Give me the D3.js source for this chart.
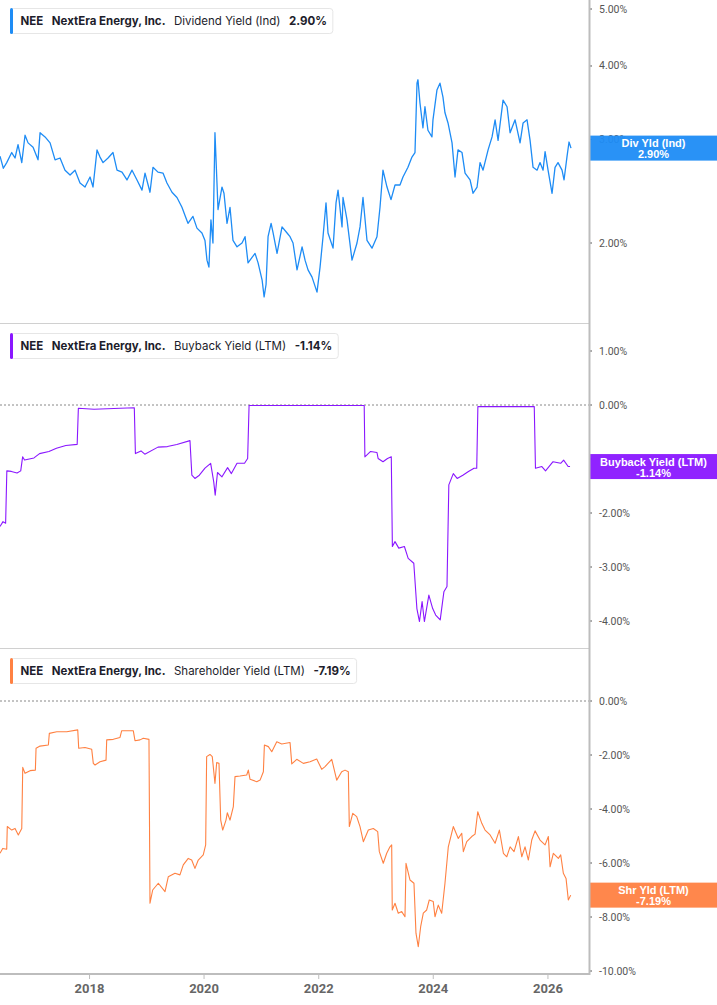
<!DOCTYPE html>
<html>
<head>
<meta charset="utf-8">
<script src="https://cdn.jsdelivr.net/npm/d3@7"></script>
<style>
  body { margin: 0; background: #fff; }
  svg { display: block; }
</style>
</head>
<body>
<svg id="chart"></svg>
<script>
// ================= DONNÉES =================== //
// dates en années décimales, valeurs en %
const ticker = "NEE";
const company = "NextEra Energy, Inc.";
const seriesNames = ["Dividend Yield (Ind)", "Buyback Yield (LTM)", "Shareholder Yield (LTM)"];
const shortNames = ["Div Yld (Ind)", "Buyback Yield (LTM)", "Shr Yld (LTM)"];
const yearTicks = [2018, 2020, 2022, 2024, 2026];
const divTicks = [2, 3, 4, 5];
const buyTicks = [1, 0, -1, -2, -3, -4];
const shyTicks = [0, -2, -4, -6, -8, -10];

const divYears = [
  2016.438,2016.496,2016.555,2016.642,2016.700,2016.752,2016.817,2016.874,2016.927,2017.014,
  2017.101,2017.136,2017.223,2017.311,2017.398,2017.485,2017.572,2017.660,2017.747,2017.834,
  2017.921,2018.009,2018.061,2018.131,2018.183,2018.236,2018.323,2018.410,2018.480,2018.567,
  2018.654,2018.742,2018.829,2018.916,2018.969,2019.056,2019.108,2019.195,2019.283,2019.352,
  2019.440,2019.527,2019.614,2019.666,2019.719,2019.806,2019.876,2019.963,2020.016,2020.051,
  2020.085,2020.120,2020.155,2020.190,2020.225,2020.243,2020.312,2020.347,2020.400,2020.452,
  2020.504,2020.574,2020.661,2020.714,2020.766,2020.836,2020.888,2020.941,2021.011,2021.046,
  2021.080,2021.115,2021.168,2021.203,2021.272,2021.359,2021.447,2021.499,2021.551,2021.621,
  2021.709,2021.761,2021.813,2021.883,2021.970,2022.023,2022.075,2022.127,2022.162,2022.250,
  2022.302,2022.337,2022.407,2022.424,2022.494,2022.581,2022.668,2022.721,2022.773,2022.843,
  2022.930,2023.017,2023.070,2023.122,2023.192,2023.262,2023.332,2023.419,2023.471,2023.558,
  2023.628,2023.681,2023.716,2023.733,2023.768,2023.820,2023.855,2023.907,2023.977,2023.995,
  2024.064,2024.117,2024.169,2024.204,2024.257,2024.327,2024.379,2024.431,2024.501,2024.554,
  2024.641,2024.693,2024.763,2024.815,2024.867,2024.955,2025.024,2025.077,2025.129,2025.216,
  2025.286,2025.339,2025.426,2025.513,2025.566,2025.635,2025.688,2025.740,2025.810,2025.862,
  2025.915,2025.950,2026.002,2026.072,2026.124,2026.176,2026.246,2026.281,2026.334,2026.368,2026.403
];
const divValues = [
  2.81,2.68,2.74,2.85,2.79,2.94,2.74,3.05,2.96,2.91,
  2.77,3.08,3.03,2.96,2.77,2.79,2.66,2.61,2.66,2.53,
  2.49,2.59,2.49,2.88,2.80,2.74,2.79,2.85,2.66,2.64,
  2.56,2.66,2.56,2.46,2.63,2.44,2.69,2.64,2.63,2.53,
  2.44,2.39,2.30,2.23,2.16,2.22,2.12,2.08,2.02,1.87,
  1.82,2.19,2.00,3.08,2.53,2.28,2.49,2.43,2.16,2.30,
  2.02,1.97,2.00,2.05,1.85,1.89,1.92,1.85,1.73,1.62,
  1.70,2.05,2.16,2.08,1.92,2.13,2.08,2.05,2.00,1.80,
  1.97,1.87,1.80,1.75,1.65,1.82,2.05,2.34,2.08,1.96,
  2.34,2.46,2.13,2.39,2.19,1.87,2.00,2.13,2.39,2.02,
  1.96,2.05,2.30,2.66,2.49,2.37,2.51,2.51,2.59,2.69,
  2.80,2.85,3.74,3.79,3.46,3.14,3.41,3.11,3.03,3.24,
  3.64,3.74,3.54,3.33,3.20,2.96,2.59,2.88,2.85,2.63,
  2.56,2.43,2.49,2.74,2.66,2.88,3.03,3.24,2.99,3.50,
  3.41,3.08,3.24,2.96,3.20,3.24,2.99,2.69,2.66,2.74,
  2.66,2.86,2.66,2.43,2.69,2.74,2.66,2.56,2.81,2.97,2.90
];

const buyYears = [
  2016.438,2016.490,2016.536,2016.557,2016.635,2016.735,2016.799,2016.832,2016.866,2017.030,
  2017.127,2017.291,2017.422,2017.586,2017.784,2017.805,2018.078,2018.539,2018.782,2018.801,
  2018.899,2018.965,2019.195,2019.360,2019.524,2019.754,2019.787,2019.840,2019.918,2020.016,
  2020.115,2020.168,2020.194,2020.234,2020.312,2020.410,2020.476,2020.574,2020.705,2020.759,
  2020.784,2021.691,2022.794,2022.806,2022.906,2023.017,2023.037,2023.122,2023.201,2023.267,
  2023.286,2023.332,2023.398,2023.496,2023.562,2023.660,2023.714,2023.759,2023.805,2023.845,
  2023.923,2023.990,2024.042,2024.121,2024.185,2024.239,2024.271,2024.349,2024.416,2024.515,
  2024.613,2024.710,2024.757,2024.777,2025.761,2025.782,2025.894,2025.958,2026.089,2026.222,
  2026.274,2026.353,2026.386
];
const buyValues = [
  -2.25,-2.16,-2.19,-1.22,-1.23,-1.26,-1.22,-0.96,-1.02,-0.98,
  -0.90,-0.86,-0.80,-0.75,-0.73,-0.06,-0.08,-0.06,-0.05,-0.90,
  -0.85,-0.91,-0.78,-0.77,-0.73,-0.66,-1.30,-1.36,-1.30,-1.17,
  -1.08,-1.42,-1.67,-1.25,-1.33,-1.16,-1.27,-1.08,-1.08,-0.99,
  -0.01,-0.01,-0.01,-0.96,-0.86,-0.88,-0.99,-1.05,-0.99,-0.96,
  -2.62,-2.53,-2.65,-2.62,-2.84,-2.93,-3.77,-4.01,-3.64,-4.01,
  -3.52,-3.77,-3.89,-3.98,-3.46,-3.36,-1.48,-1.27,-1.36,-1.30,
  -1.23,-1.17,-1.17,-0.03,-0.03,-1.17,-1.14,-1.22,-1.05,-1.08,
  -1.02,-1.14,-1.14
];

const shyYears = [
  2016.438,2016.485,2016.555,2016.565,2016.642,2016.700,2016.757,2016.817,2016.834,2016.874,
  2016.962,2017.054,2017.066,2017.136,2017.281,2017.298,2017.428,2017.602,2017.794,2017.811,
  2017.921,2018.038,2018.066,2018.096,2018.183,2018.288,2018.300,2018.415,2018.532,2018.562,
  2018.764,2018.794,2018.881,2018.939,2019.038,2019.056,2019.103,2019.201,2019.318,2019.375,
  2019.492,2019.579,2019.637,2019.724,2019.784,2019.841,2019.899,2019.986,2020.028,2020.045,
  2020.103,2020.143,2020.190,2020.220,2020.260,2020.290,2020.325,2020.382,2020.405,2020.452,
  2020.510,2020.539,2020.626,2020.743,2020.771,2020.801,2020.918,2020.976,2021.033,2021.051,
  2021.120,2021.180,2021.267,2021.354,2021.499,2021.529,2021.616,2021.731,2021.848,2021.965,
  2022.052,2022.110,2022.227,2022.314,2022.401,2022.459,2022.517,2022.534,2022.594,2022.663,
  2022.721,2022.779,2022.866,2022.953,2023.030,2023.058,2023.127,2023.187,2023.244,2023.274,
  2023.284,2023.332,2023.389,2023.449,2023.506,2023.524,2023.594,2023.663,2023.698,2023.738,
  2023.780,2023.826,2023.885,2023.930,2024.000,2024.030,2024.087,2024.147,2024.204,2024.262,
  2024.349,2024.436,2024.496,2024.524,2024.583,2024.670,2024.728,2024.775,2024.845,2024.902,
  2024.990,2025.077,2025.152,2025.222,2025.281,2025.339,2025.408,2025.484,2025.543,2025.600,
  2025.658,2025.717,2025.775,2025.862,2025.950,2026.007,2026.037,2026.094,2026.182,2026.223,
  2026.269,2026.316,2026.356,2026.398
];
const shyValues = [
  -5.64,-5.46,-5.49,-4.65,-4.78,-4.72,-4.96,-4.72,-2.46,-2.68,
  -2.58,-2.56,-1.75,-1.67,-1.63,-1.20,-1.14,-1.14,-1.07,-1.75,
  -1.72,-1.79,-2.31,-2.37,-2.25,-2.19,-1.44,-1.42,-1.35,-1.10,
  -1.10,-1.47,-1.44,-1.38,-1.42,-7.49,-7.00,-6.75,-7.06,-6.51,
  -6.38,-6.44,-6.07,-5.83,-5.89,-6.20,-5.89,-5.70,-5.33,-2.06,
  -1.98,-2.06,-3.05,-2.28,-2.31,-4.41,-4.78,-4.41,-4.14,-4.41,
  -3.91,-2.80,-2.78,-2.74,-2.56,-2.90,-2.99,-2.93,-2.62,-1.63,
  -1.69,-1.88,-1.51,-1.59,-1.54,-2.33,-2.16,-2.31,-2.25,-2.15,
  -2.53,-2.43,-2.16,-2.93,-2.62,-2.56,-2.62,-4.65,-4.16,-4.28,
  -4.65,-5.21,-4.78,-4.72,-4.84,-5.58,-6.01,-5.64,-5.40,-5.33,
  -7.74,-7.49,-7.86,-7.80,-7.99,-6.01,-6.63,-6.75,-8.60,-9.10,
  -8.36,-7.86,-7.74,-7.37,-7.43,-7.99,-7.56,-7.86,-6.75,-5.40,
  -4.65,-5.09,-4.90,-5.58,-5.21,-5.02,-4.93,-4.10,-4.53,-4.78,
  -4.96,-5.27,-4.78,-5.64,-5.77,-5.40,-5.58,-5.02,-5.77,-5.40,
  -5.89,-5.15,-4.81,-5.15,-5.33,-5.02,-6.14,-5.64,-5.83,-5.70,
  -6.38,-6.57,-7.37,-7.19
];

// ================= CONSTANTES =================== //
const width = 717;
const height = 1005;
const axisX = 589;       // axe vertical droit
const bottomY = 974;     // axe des dates

const svg = d3.select("#chart").attr("width", width).attr("height", height);

// année décimale -> Date
function toDate(t) {
  const y = Math.floor(t);
  const a = new Date(y, 0, 1), b = new Date(y + 1, 0, 1);
  return new Date(+a + (t - y) * (b - a));
}

const x = d3.scaleTime()
  .domain([toDate(2016.438), toDate(2026.717)])
  .range([0, axisX]);

const fmt = v => v.toFixed(2) + "%";

const panels = [
  { years: divYears, values: divValues, ticks: divTicks, color: "#1e8cf5",
    y: d3.scaleLog().domain([5, 2]).range([9, 243]), legendTop: 8, zero: false, lw: 1.3 },
  { years: buyYears, values: buyValues, ticks: buyTicks, color: "#8a17ff",
    y: d3.scaleLinear().domain([0, -4]).range([405, 621]), legendTop: 333, zero: true, lw: 1.1 },
  { years: shyYears, values: shyValues, ticks: shyTicks, color: "#ff8142",
    y: d3.scaleLinear().domain([0, -10]).range([701, 971]), legendTop: 658, zero: true, lw: 1.1 }
];

// séparateurs entre les panneaux
[323.5, 648.5].forEach(sy => {
  svg.append("line").attr("x1", 0).attr("x2", axisX).attr("y1", sy).attr("y2", sy)
    .attr("stroke", "#d0d0d0").attr("stroke-width", 1);
});

panels.forEach((p, i) => {
  const g = svg.append("g");
  const last = p.values[p.values.length - 1];
  const cy = p.y(last);

  // ligne zéro pointillée
  if (p.zero) {
    g.append("line")
      .attr("x1", 0).attr("x2", axisX)
      .attr("y1", p.y(0)).attr("y2", p.y(0))
      .attr("stroke", "#888").attr("stroke-width", 1)
      .attr("stroke-dasharray", "2,2");
  }

  // graduations à droite (libellé masqué s'il est entièrement sous l'étiquette de fin)
  p.ticks.forEach(t => {
    g.append("line").attr("x1", axisX).attr("x2", axisX + 3)
      .attr("y1", p.y(t)).attr("y2", p.y(t))
      .attr("stroke", "#555").attr("stroke-width", 1);
    if (Math.abs(p.y(t) - cy) < 8) return;
    g.append("text")
      .attr("x", axisX + 10).attr("y", p.y(t) + 3.5)
      .attr("font-family", "Roboto, Arial, sans-serif")
      .attr("font-size", 10.5)
      .attr("fill", "#555")
      .text(fmt(t));
  });

  // la série
  const pts = p.years.map((t, k) => [toDate(t), p.values[k]]);
  const line = d3.line().x(d => x(d[0])).y(d => p.y(d[1]));
  g.append("path")
    .datum(pts)
    .attr("d", line)
    .attr("fill", "none")
    .attr("stroke", p.color)
    .attr("stroke-width", p.lw)
    .attr("stroke-linejoin", "round");

  // étiquette de fin
  g.append("rect")
    .attr("x", axisX + 1).attr("y", cy - 12.5)
    .attr("width", width - axisX - 1).attr("height", 25)
    .attr("fill", p.color).attr("fill-opacity", 0.95);
  const lx = (axisX + 1 + width) / 2;
  g.append("text").attr("x", lx).attr("y", cy - 1)
    .attr("text-anchor", "middle")
    .attr("font-family", "Liberation Sans, Arial, sans-serif")
    .attr("font-weight", "bold").attr("font-size", 11).attr("fill", "#fff")
    .text(shortNames[i]);
  g.append("text").attr("x", lx).attr("y", cy + 10)
    .attr("text-anchor", "middle")
    .attr("font-family", "Liberation Sans, Arial, sans-serif")
    .attr("font-weight", "bold").attr("font-size", 11).attr("fill", "#fff")
    .text(fmt(last));

  // légende
  const lg = g.append("g");
  const box = lg.append("rect")
    .attr("x", 10.5).attr("y", p.legendTop + 0.5)
    .attr("height", 25).attr("rx", 3)
    .attr("fill", "#fff").attr("stroke", "#e6e6e6");
  lg.append("rect")
    .attr("x", 10).attr("y", p.legendTop)
    .attr("width", 3).attr("height", 26).attr("rx", 1.5)
    .attr("fill", p.color);
  const parts = [
    { t: ticker, w: 700 },
    { t: company, w: 700 },
    { t: seriesNames[i], w: 400 },
    { t: fmt(last), w: 700 }
  ];
  let cx = 20.5;
  parts.forEach(pt => {
    const tx = lg.append("text")
      .attr("x", cx).attr("y", p.legendTop + 17)
      .attr("font-family", "Inter, sans-serif")
      .attr("font-size", 11.5)
      .attr("font-weight", pt.w)
      .attr("fill", "#1d1d2b")
      .text(pt.t);
    cx += tx.node().getComputedTextLength() + 8.5;
  });
  box.attr("width", cx - 8.5 + 6 - 10.5);
});

// axe vertical
svg.append("line").attr("x1", axisX + 0.5).attr("x2", axisX + 0.5)
  .attr("y1", 0).attr("y2", bottomY + 1)
  .attr("stroke", "#bdbdbd").attr("stroke-width", 2);

// axe des dates
svg.append("line").attr("x1", 0).attr("x2", axisX + 1)
  .attr("y1", bottomY).attr("y2", bottomY)
  .attr("stroke", "#bdbdbd").attr("stroke-width", 2);

yearTicks.forEach(yr => {
  const tx = x(new Date(yr, 0, 1));
  svg.append("line").attr("x1", tx).attr("x2", tx)
    .attr("y1", bottomY).attr("y2", bottomY + 5)
    .attr("stroke", "#bdbdbd").attr("stroke-width", 1);
  svg.append("text")
    .attr("x", tx).attr("y", bottomY + 19)
    .attr("text-anchor", "middle")
    .attr("font-family", "Roboto, Arial, sans-serif")
    .attr("font-weight", "bold").attr("font-size", 13)
    .attr("fill", "#666")
    .text(yr);
});
</script>
</body>
</html>
